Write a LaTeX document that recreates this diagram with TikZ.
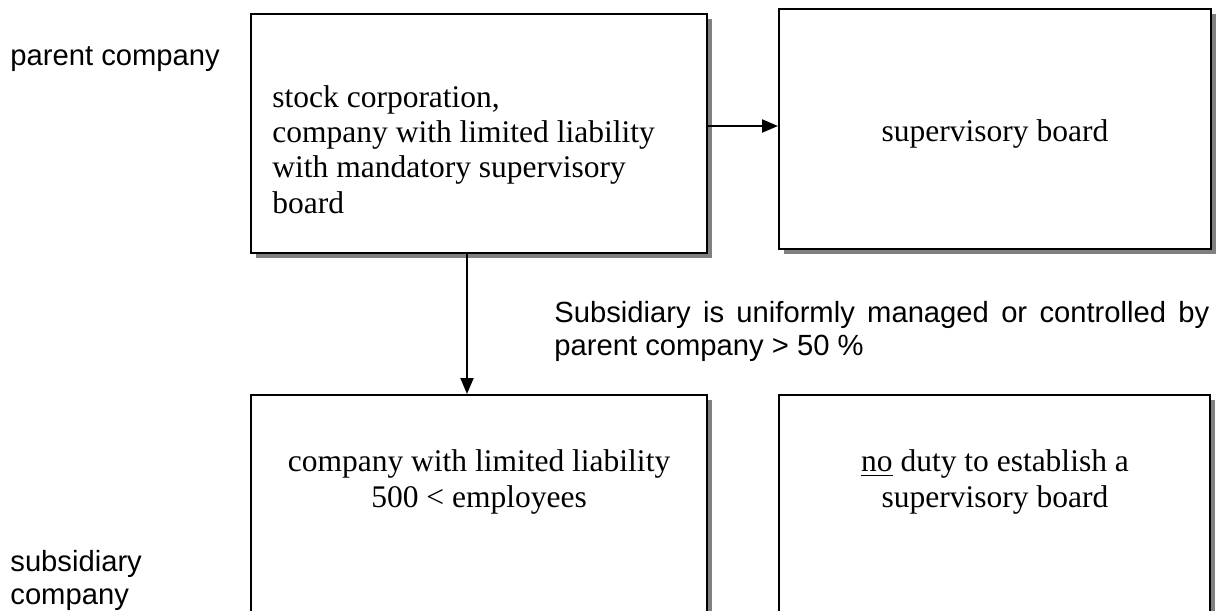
\documentclass[tikz,border=0pt]{standalone}
\usepackage{fontspec}
\setmainfont{Liberation Serif}
\setsansfont{Liberation Sans}
\usetikzlibrary{shadows,arrows.meta}

\tikzset{
  box/.style={draw=black, line width=1pt, fill=white, rectangle,
    drop shadow={shadow xshift=2.5pt, shadow yshift=-2.5pt, fill=black!50, opacity=1}},
  boxtext/.style={font=\fontsize{15.75}{17.6}\selectfont, inner sep=0pt},
  sidelabel/.style={font=\sffamily\fontsize{14.6}{16.5}\selectfont, inner sep=0pt, align=left},
  arr/.style={line width=1pt, -{Triangle[length=8pt,width=6.5pt]}}
}

\begin{document}
\begin{tikzpicture}[x=0.5pt, y=-0.5pt]
  \useasboundingbox (0,0) rectangle (1224,610);
  \fill[white] (0,0) rectangle (1224,610);
  \clip (0,0) rectangle (1224,610);

  % side labels (anchored on the baseline of their last line)
  \node[sidelabel, anchor=base west] (lparent) at (10,66) {parent company};
  \node[sidelabel, anchor=base west] (lsub) at (10,604) {subsidiary\\company};

  % boxes; the lower pair runs past the bottom edge
  \node[box, minimum width=228pt, minimum height=119.5pt] (parent) at (479,133.5) {};
  \node[box, minimum width=216pt, minimum height=120pt] (board) at (995,129) {};
  \node[box, minimum width=228pt, minimum height=132.5pt] (sub) at (479,527.5) {};
  \node[box, minimum width=215.5pt, minimum height=132.5pt] (noduty) at (994.5,527.5) {};

  % box texts
  \node[boxtext, anchor=base west, align=left] (tparent) at (272,213)
    {stock corporation,\\company with limited liability\\with mandatory supervisory\\board};
  \node[boxtext, anchor=base] (tboard) at (995,141) {supervisory board};
  \node[boxtext, anchor=base, align=center] (tsub) at (479,507)
    {company with limited liability\\500 < employees};
  \node[boxtext, anchor=base, align=center] (tnoduty) at (995,507)
    {\underline{no} duty to establish a\\supervisory board};

  % condition text
  \node[sidelabel, anchor=base west] (cond) at (554,355)
    {\makebox[327.5pt][s]{Subsidiary is uniformly managed or controlled by}\\parent company > 50 \%};

  % connectors
  \draw[arr] ([yshift=3.75pt]parent.east) -- ([yshift=3.75pt]parent.east -| board.west);
  \draw[arr] ([xshift=-6pt]parent.south) -- ([xshift=-6pt]parent.south |- sub.north);
\end{tikzpicture}
\end{document}
